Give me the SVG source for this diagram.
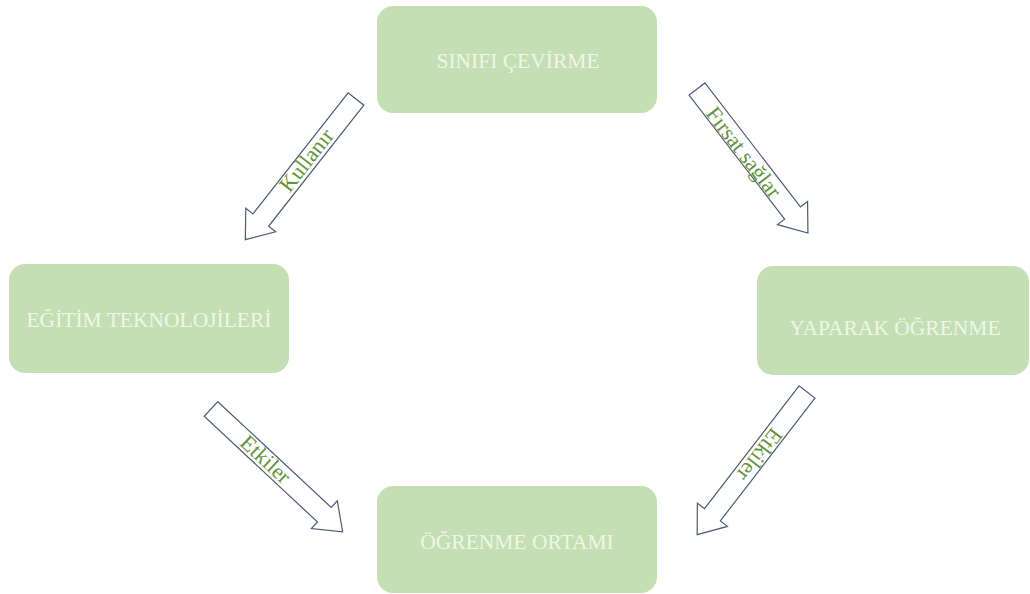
<svg xmlns="http://www.w3.org/2000/svg" width="1030" height="594" viewBox="0 0 1030 594">
<defs>
<style>
.box{fill:#c5dfb4;}
.bt{font-family:"Liberation Serif","Times New Roman",serif;font-size:21.5px;fill:#eef6e6;text-anchor:middle;}
.arr{fill:#ffffff;stroke:#4c5a78;stroke-width:1.2;stroke-linejoin:miter;}
.lbl{font-family:"Liberation Serif","Times New Roman",serif;font-size:22px;fill:#5f9538;text-anchor:middle;}
</style>
<path id="blk" d="M0,-10 L155,-10 L155,-19 L180,0 L155,19 L155,10 L0,10 Z"/>
</defs>
<rect width="1030" height="594" fill="#ffffff"/>
<g id="connectors">
<g id="c1"><use href="#blk" class="arr" transform="translate(356,99) rotate(128.2) scale(0.994,1)"/>
<text class="lbl" transform="translate(306,160) rotate(-51.8)" dy="0.35em">Kullanır</text></g>
<g id="c2"><use href="#blk" class="arr" transform="translate(697,89) rotate(52.4) scale(1.01,1)"/>
<text class="lbl" transform="translate(744,152) rotate(52.4)" dy="0.35em">Fırsat sağlar</text></g>
<g id="c3"><use href="#blk" class="arr" transform="translate(211,409) rotate(43)"/>
<text class="lbl" transform="translate(266,459) rotate(43)" dy="0.35em">Etkiler</text></g>
<g id="c4"><use href="#blk" class="arr" transform="translate(807,392) rotate(127.6)"/>
<text class="lbl" transform="translate(760,455) rotate(127.6)" dy="0.35em">Etkiler</text></g>
</g>
<g id="n1"><rect class="box" x="377" y="6" width="280" height="107" rx="16"/><text class="bt" x="518" y="68">SINIFI ÇEVİRME</text></g>
<g id="n2"><rect class="box" x="9" y="264" width="280" height="109" rx="16"/><text class="bt" x="149" y="327">EĞİTİM TEKNOLOJİLERİ</text></g>
<g id="n3"><rect class="box" x="757" y="266" width="272" height="109" rx="16"/><text class="bt" x="895" y="335">YAPARAK ÖĞRENME</text></g>
<g id="n4"><rect class="box" x="377" y="486" width="280" height="107" rx="16"/><text class="bt" x="517" y="549">ÖĞRENME ORTAMI</text></g>
</svg>
